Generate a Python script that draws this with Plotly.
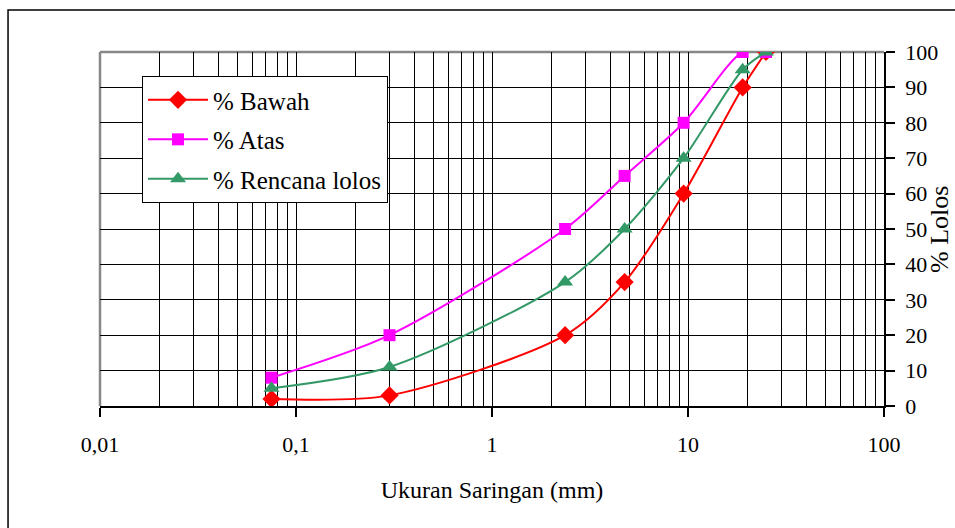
import plotly.graph_objects as go

# Data
sieve_mm = [0.075, 0.3, 2.36, 4.75, 9.5, 19, 25]
bawah = [2, 3, 20, 35, 60, 90, 100]
atas = [8, 20, 50, 65, 80, 100, 100]
rencana = [5, 11, 35, 50, 70, 95, 100]

x_tickvals = [0.01, 0.1, 1, 10, 100]
x_ticktext = ["0,01", "0,1", "1", "10", "100"]
y_tickvals = [0, 10, 20, 30, 40, 50, 60, 70, 80, 90, 100]

FONT = "Liberation Serif, Times New Roman, serif"

fig = go.Figure()
fig.add_trace(go.Scatter(
    x=sieve_mm, y=bawah, name="% Bawah", mode="lines+markers",
    line=dict(color="#FF0000", width=2, shape="spline", smoothing=0.8),
    marker=dict(symbol="diamond", size=14, color="#FF0000"),
    legendgroup="a"))
fig.add_trace(go.Scatter(
    x=sieve_mm, y=atas, name="% Atas", mode="lines+markers",
    line=dict(color="#FF00FF", width=2, shape="spline", smoothing=0.8),
    marker=dict(symbol="square", size=12, color="#FF00FF"),
    legendgroup="b"))
fig.add_trace(go.Scatter(
    x=sieve_mm, y=rencana, name="% Rencana lolos", mode="lines+markers",
    line=dict(color="#339966", width=2, shape="spline", smoothing=0.8),
    marker=dict(symbol="triangle-up", size=14, color="#339966"),
    legendgroup="c"))

fig.update_layout(
    width=955, height=528,
    margin=dict(l=100, r=71, t=52, b=122),
    paper_bgcolor="white", plot_bgcolor="white",
    font=dict(family=FONT, color="black", size=22),
    showlegend=True,
    legend=dict(
        x=0.0536, y=0.932, xanchor="left", yanchor="top",
        bgcolor="white", bordercolor="black", borderwidth=1,
        font=dict(family=FONT, size=25, color="black"),
        itemwidth=60, tracegroupgap=4,
    ),
    xaxis=dict(
        type="log", range=[-2, 2], automargin=False,
        tickvals=x_tickvals, ticktext=x_ticktext,
        showgrid=True, gridcolor="black", gridwidth=1,
        minor=dict(dtick="D1", showgrid=True, gridcolor="black", gridwidth=1, ticks=""),
        showline=True, linecolor="black", linewidth=1.5,
        ticks="outside", ticklen=9, tickcolor="black", tickwidth=1.5,
        ticklabelstandoff=9,
        tickfont=dict(family=FONT, size=22),
        title=dict(text="Ukuran Saringan (mm)", font=dict(family=FONT, size=24), standoff=25),
        zeroline=False,
    ),
    yaxis=dict(
        range=[0, 100], side="right", automargin=False,
        tickvals=y_tickvals,
        showgrid=True, gridcolor="black", gridwidth=1,
        showline=True, linecolor="black", linewidth=1.5,
        ticks="outside", ticklen=9, tickcolor="black", tickwidth=1.5,
        ticklabelstandoff=6,
        tickfont=dict(family=FONT, size=22),
        zeroline=False,
    ),
    annotations=[
        dict(text="% Lolos", xref="paper", yref="paper", x=1.049, y=0.5,
             xanchor="left", yanchor="middle", textangle=-90, showarrow=False,
             font=dict(family=FONT, size=26, color="black")),
    ],
    shapes=[
        # gray plot-area border (left and top)
        dict(type="line", xref="paper", yref="paper", x0=0, x1=0, y0=0, y1=1,
             line=dict(color="#888888", width=2.5), layer="between"),
        dict(type="line", xref="paper", yref="paper", x0=0, x1=1, y0=1, y1=1,
             line=dict(color="#888888", width=2.5), layer="between"),
        # outer chart frame
        dict(type="rect", xref="paper", yref="paper", x0=-0.1173, x1=1.3, y0=-0.6, y1=1.1186,
             line=dict(color="black", width=1.5), layer="above"),
    ],
)

fig.write_html("out.html")
